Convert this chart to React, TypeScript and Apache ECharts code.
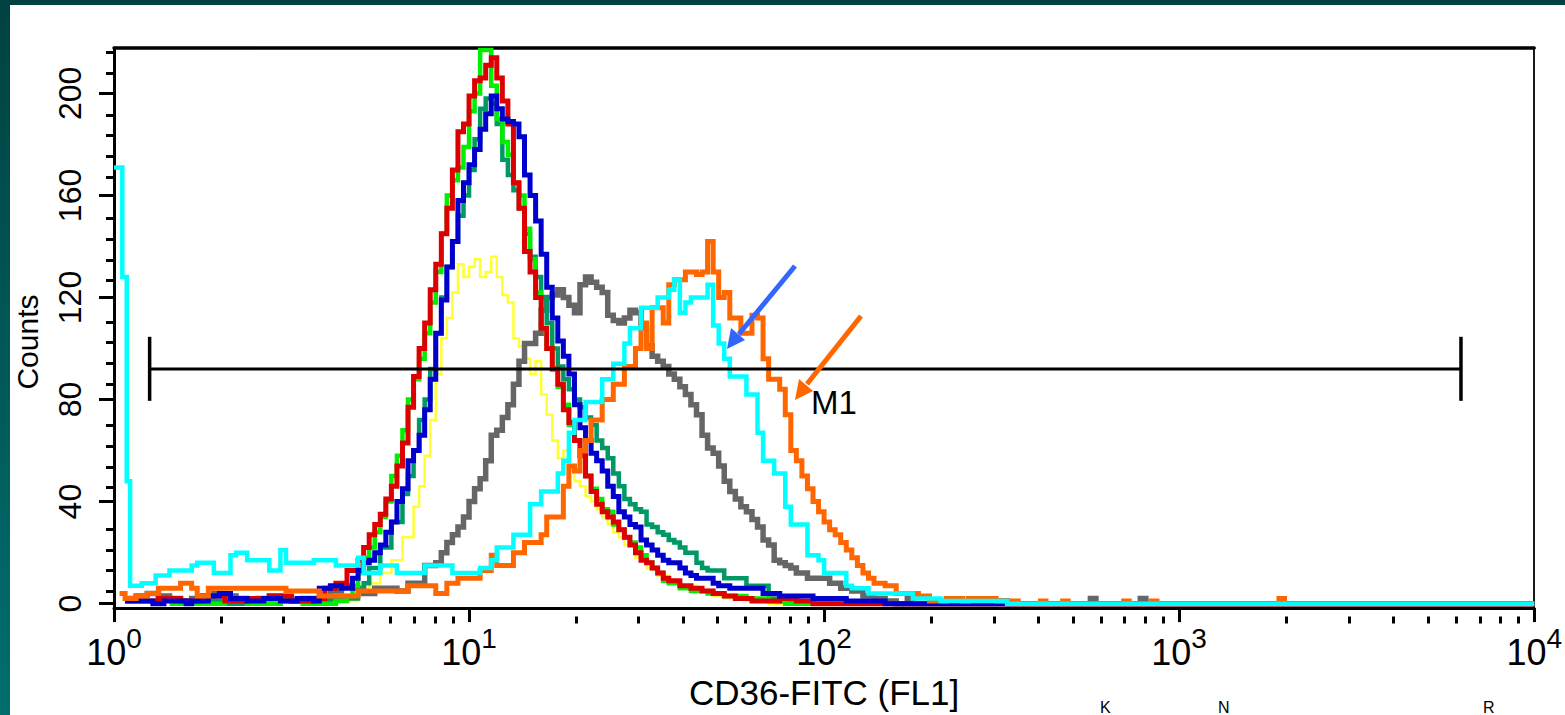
import React, { useEffect, useRef } from "react";
import * as echarts from "echarts";

// 256-channel, 4-decade log histograms: FL1 value = 10^(channel/64); [channel, counts]
const greenHist: [number, number][] = [[10,0],[20,1],[24,0],[30,1],[34,0],[40,1],[42,3],[43,7],[44,12],[45,18],[46,22],[47,28],[48,34],[49,40],[50,50],[51,58],[52,68],[53,80],[54,88],[55,96],[56,106],[57,118],[58,130],[59,145],[60,160],[61,166],[62,171],[63,179],[64,193],[65,200],[66,217],[67,217],[68,203],[69,190],[70,181],[71,176],[72,165],[73,160],[74,147],[75,135],[76,122],[77,108],[78,100],[79,92],[80,85],[81,78],[82,70],[83,64],[84,58],[85,50],[86,45],[87,41],[88,37],[89,36],[90,31],[91,29],[92,26],[93,24],[94,22],[95,19],[96,16],[97,14],[98,12],[99,9],[100,8],[102,6],[104,5],[107,4],[110,3],[114,2],[118,1],[121,0],[256,0]];
const redHist: [number, number][] = [[2,1],[8,2],[12,1],[16,3],[20,1],[24,2],[28,3],[32,1],[36,2],[38,6],[40,8],[42,13],[44,17],[45,22],[46,27],[47,31],[48,35],[49,41],[50,46],[51,54],[52,63],[53,77],[54,89],[55,100],[56,110],[57,123],[58,133],[59,145],[60,155],[61,170],[62,185],[63,188],[64,199],[65,205],[66,206],[67,211],[68,214],[69,206],[70,197],[71,188],[72,165],[73,155],[74,138],[75,130],[76,120],[77,108],[78,100],[79,92],[80,86],[81,76],[82,71],[83,64],[84,58],[85,50],[86,44],[87,39],[88,36],[89,34],[90,32],[91,29],[92,26],[93,23],[94,20],[95,17],[96,16],[97,14],[98,12],[99,10],[100,9],[102,7],[104,6],[106,5],[108,4],[110,3],[112,2],[115,1],[120,2],[123,1],[126,0],[256,0]];
const blueHist: [number, number][] = [[2,1],[7,0],[9,1],[13,0],[14,1],[17,3],[19,4],[21,2],[24,1],[27,2],[30,1],[33,2],[36,1],[37,6],[39,7],[41,6],[43,10],[44,13],[45,16],[46,17],[47,20],[48,23],[49,28],[50,32],[51,40],[52,45],[53,56],[54,60],[55,66],[56,76],[57,88],[58,106],[59,119],[60,132],[61,142],[62,158],[63,165],[64,172],[65,178],[66,186],[67,192],[68,199],[69,194],[70,190],[71,189],[72,188],[73,183],[74,168],[75,160],[76,150],[77,137],[78,124],[79,112],[80,103],[81,97],[82,90],[83,78],[84,69],[85,64],[86,59],[87,56],[88,52],[89,46],[90,42],[91,36],[92,34],[93,31],[94,30],[95,25],[96,23],[97,21],[98,19],[99,17],[100,16],[102,14],[103,12],[104,11],[105,10],[108,8],[109,7],[111,6],[117,4],[120,3],[126,2],[132,1],[139,0],[256,0]];
const darkGreenHist: [number, number][] = [[10,1],[20,0],[30,1],[38,2],[44,6],[45,8],[46,14],[48,22],[50,32],[52,43],[53,50],[54,60],[55,72],[56,80],[57,92],[58,106],[59,120],[60,132],[61,142],[62,152],[63,160],[64,170],[65,182],[66,194],[67,198],[68,196],[69,188],[70,174],[71,168],[72,162],[73,155],[74,145],[75,136],[76,128],[77,120],[78,110],[79,100],[80,93],[81,88],[82,84],[83,80],[84,77],[85,73],[86,70],[87,64],[88,61],[89,57],[90,51],[91,46],[92,41],[93,39],[94,37],[95,36],[96,31],[97,30],[98,28],[99,27],[100,25],[101,24],[102,22],[103,20],[105,16],[106,14],[107,13],[110,10],[114,7],[118,2],[120,1],[124,0],[256,0]];
const yellowHist: [number, number][] = [[40,1],[44,4],[46,8],[48,12],[50,17],[52,26],[54,38],[55,46],[56,58],[57,72],[58,90],[59,104],[60,112],[61,122],[62,133],[63,128],[64,132],[65,135],[66,128],[67,130],[68,136],[69,128],[70,121],[71,118],[72,104],[73,101],[74,96],[75,90],[76,95],[77,82],[78,74],[79,64],[80,57],[81,60],[82,52],[83,48],[84,46],[85,42],[86,40],[87,37],[88,34],[89,31],[90,28],[91,26],[92,23],[94,18],[96,14],[98,11],[100,9],[102,7],[105,5],[108,3],[110,2],[114,1],[118,0],[256,0]];
const grayHist: [number, number][] = [[2,2],[4,3],[6,4],[8,3],[10,2],[12,1],[14,2],[16,3],[18,4],[20,3],[22,2],[24,1],[26,2],[28,3],[30,2],[32,1],[34,2],[36,1],[39,5],[41,7],[43,6],[45,4],[47,6],[49,6],[51,5],[53,8],[56,15],[58,16],[59,20],[60,24],[61,27],[62,30],[63,34],[64,40],[65,45],[66,49],[67,56],[68,66],[69,68],[70,73],[71,78],[72,86],[73,95],[74,102],[75,102],[76,106],[77,115],[78,120],[79,121],[80,123],[81,120],[82,117],[83,114],[84,125],[85,128],[86,126],[87,124],[88,122],[89,113],[90,111],[91,110],[92,112],[93,115],[94,114],[95,108],[96,101],[97,97],[98,95],[99,93],[100,90],[101,88],[102,85],[103,82],[104,78],[105,74],[106,66],[107,61],[108,59],[109,54],[110,48],[111,44],[112,41],[113,38],[114,36],[115,33],[116,30],[117,25],[118,23],[119,17],[120,16],[121,15],[122,14],[123,12],[125,10],[127,10],[129,8],[131,6],[133,5],[135,3],[137,2],[139,1],[141,0],[143,2],[144,0],[160,1],[161,0],[176,2],[177,0],[185,2],[186,0],[256,0]];
const cyanHist: [number, number][] = [[0,171],[1.5,128],[2.3,48],[2.9,7],[5,8],[7.5,11],[10,13],[14,15],[15,16],[18,12],[21,19],[22,20],[24,17],[28,13],[30,21],[31,16],[36,17],[40,15],[44,18],[45,12],[48,15],[51,12],[56,15],[61,12],[66,14],[68,17],[69,22],[72,27],[75,39],[77,44],[80,51],[81,56],[82,67],[83,72],[85,79],[88,88],[90,94],[92,102],[93,108],[95,116],[98,120],[100,123],[101,127],[102,114],[103,118],[104,120],[107,125],[108,109],[109,102],[110,96],[111,89],[114,82],[116,67],[117,56],[119,51],[121,38],[122,31],[125,19],[127,17],[128,12],[132,7],[133,6],[136,4],[144,2],[149,1],[161,0],[256,0]];
const orangeHist: [number, number][] = [[1,4],[2,2],[4,3],[6,4],[8,6],[11,6],[12,8],[14,6],[15,3],[17,6],[24,6],[31,5],[37,3],[44,5],[53,7],[58,4],[60,8],[62,10],[66,13],[68,19],[69,15],[72,20],[74,24],[77,27],[78,34],[81,46],[82,54],[83,52],[84,60],[85,64],[86,72],[88,80],[90,86],[92,93],[94,100],[95,110],[96,100],[97,116],[99,110],[100,125],[101,127],[103,130],[105,129],[106,130],[107,142],[108,130],[109,120],[110,122],[111,112],[113,106],[115,113],[116,112],[117,96],[118,88],[120,84],[121,74],[122,60],[123,56],[124,50],[125,45],[126,40],[127,36],[128,32],[129,29],[130,27],[131,24],[132,21],[133,18],[134,15],[135,12],[136,10],[137,8],[139,7],[141,4],[145,3],[147,1],[150,2],[153,1],[154,2],[159,1],[163,0],[167,1],[168,0],[171,1],[172,0],[182,1],[183,0],[187,1],[188,0],[210,2],[211,0],[256,0]];

const xMajorTicks = [1, 10, 100, 1000, 10000];
const yMajorTicks = [0, 40, 80, 120, 160, 200];
const m1Range = [1.26, 6220];
const m1Level = 92;
const m1CapLow = 79.5;
const m1CapHigh = 104.6;

const FONT = "'Liberation Sans', Arial, Helvetica, sans-serif";

const toXY = (h: [number, number][]) => h.map(([ch, c]) => [Math.pow(10, ch / 64), c]);

export default function App() {
  const ref = useRef<HTMLDivElement>(null);
  useEffect(() => {
    if (!ref.current) return;
    const chart = echarts.init(ref.current, undefined, { renderer: "svg" });

    const xMinor: number[] = [];
    for (const d of [1, 10, 100, 1000]) for (let k = 2; k <= 9; k++) xMinor.push(k * d);
    const yMinor: number[] = [];
    for (let v = 8; v <= 216; v += 8) if (v % 40 !== 0) yMinor.push(v);

    const hist = (name: string, h: [number, number][], color: string, width: number) => ({
      name,
      type: "line",
      step: "end",
      data: toXY(h),
      showSymbol: false,
      symbol: "none",
      silent: true,
      xAxisIndex: 0,
      yAxisIndex: 0,
      lineStyle: { color, width, join: "miter", cap: "butt" },
      itemStyle: { color },
    });

    const seg = (data: number[][], width: number) => ({
      type: "line",
      data,
      showSymbol: false,
      symbol: "none",
      silent: true,
      xAxisIndex: 0,
      yAxisIndex: 0,
      lineStyle: { color: "#000", width, cap: "butt" },
      z: 5,
    });

    const yMin = -1.74;
    const yMax = 217.8;
    const gridBox = { left: 114, right: 30, top: 48, bottom: 98.5 };

    chart.setOption({
      animation: false,
      backgroundColor: "#fff",
      grid: [gridBox, gridBox],
      xAxis: [
        {
          gridIndex: 0,
          type: "log",
          logBase: 10,
          min: 1,
          max: 10000,
          position: "bottom",
          name: "CD36-FITC (FL1]",
          nameLocation: "middle",
          nameGap: 62,
          nameTextStyle: { fontSize: 35, fontFamily: FONT, color: "#000" },
          axisLine: { show: true, onZero: false, lineStyle: { color: "#000", width: 3 } },
          axisTick: { show: true, length: 14, lineStyle: { color: "#000", width: 3 }, customValues: xMajorTicks },
          axisLabel: {
            show: true,
            margin: 16,
            customValues: xMajorTicks,
            formatter: (v: number) => `{b|10}{e|${Math.round(Math.log10(v))}}`,
            rich: {
              b: { fontSize: 36, fontFamily: FONT, color: "#000", lineHeight: 56 },
              e: { fontSize: 28, fontFamily: FONT, color: "#000", lineHeight: 28, verticalAlign: "top" },
            },
          },
          splitLine: { show: false },
        },
        {
          gridIndex: 1,
          type: "log",
          logBase: 10,
          min: 1,
          max: 10000,
          position: "bottom",
          axisLine: { show: false, onZero: false },
          axisTick: { show: true, length: 7, lineStyle: { color: "#000", width: 3 }, customValues: xMinor },
          axisLabel: { show: false },
          splitLine: { show: false },
        },
        {
          gridIndex: 0,
          type: "log",
          logBase: 10,
          min: 1,
          max: 10000,
          position: "top",
          axisLine: { show: true, onZero: false, lineStyle: { color: "#000", width: 3.5 } },
          axisTick: { show: false },
          axisLabel: { show: false },
          splitLine: { show: false },
        },
      ],
      yAxis: [
        {
          gridIndex: 0,
          type: "value",
          min: yMin,
          max: yMax,
          position: "left",
          name: "Counts",
          nameLocation: "middle",
          nameRotate: 90,
          nameGap: 72,
          nameTextStyle: { fontSize: 30, fontFamily: FONT, color: "#000", padding: [0, 28, 0, 0] },
          axisLine: { show: true, onZero: false, lineStyle: { color: "#000", width: 3 } },
          axisTick: { show: true, length: 15, lineStyle: { color: "#000", width: 3 }, customValues: yMajorTicks },
          axisLabel: {
            show: true,
            rotate: 90,
            margin: 28,
            customValues: yMajorTicks,
            fontSize: 32,
            fontFamily: FONT,
            color: "#000",
          },
          splitLine: { show: false },
        },
        {
          gridIndex: 1,
          type: "value",
          min: yMin,
          max: yMax,
          position: "left",
          axisLine: { show: false, onZero: false },
          axisTick: { show: true, length: 8, lineStyle: { color: "#000", width: 3 }, customValues: yMinor },
          axisLabel: { show: false },
          splitLine: { show: false },
        },
        {
          gridIndex: 0,
          type: "value",
          min: yMin,
          max: yMax,
          position: "right",
          axisLine: { show: true, onZero: false, lineStyle: { color: "#000", width: 1.8 } },
          axisTick: { show: false },
          axisLabel: { show: false },
          splitLine: { show: false },
        },
      ],
      series: [
        hist("yellow", yellowHist, "#FFFF33", 2.5),
        hist("gray", grayHist, "#666666", 5.5),
        hist("darkgreen", darkGreenHist, "#009966", 4.5),
        hist("green", greenHist, "#00EE00", 4.5),
        hist("red", redHist, "#DD0000", 5),
        hist("blue", blueHist, "#0000CC", 5),
        hist("orange", orangeHist, "#FF6600", 5),
        hist("cyan", cyanHist, "#00FFFF", 4.5),
        seg([[m1Range[0], m1Level], [m1Range[1], m1Level]], 3),
        seg([[m1Range[0], m1CapLow], [m1Range[0], m1CapHigh]], 3.5),
        seg([[m1Range[1], m1CapLow], [m1Range[1], m1CapHigh]], 3.5),
      ],
      graphic: [
        {
          type: "rect",
          left: 0,
          top: 0,
          shape: { width: 1565, height: 5 },
          style: { fill: "#004242" },
          z: 100,
        },
        {
          type: "rect",
          left: 0,
          top: 0,
          shape: { width: 10, height: 715 },
          style: {
            fill: new echarts.graphic.LinearGradient(0, 0, 0, 1, [
              { offset: 0, color: "#004242" },
              { offset: 1, color: "#006e6e" },
            ]),
          },
          z: 100,
        },
        {
          type: "text",
          left: 811,
          top: 386,
          style: { text: "M1", fontSize: 33, fontFamily: FONT, fill: "#000" },
          z: 50,
        },
        {
          type: "line",
          shape: { x1: 795, y1: 266, x2: 739, y2: 334 },
          style: { stroke: "#3366FF", lineWidth: 5 },
          z: 50,
        },
        {
          type: "polygon",
          shape: { points: [[727, 349], [745, 340], [731, 328]] },
          style: { fill: "#3366FF" },
          z: 50,
        },
        {
          type: "line",
          shape: { x1: 861, y1: 316, x2: 807, y2: 384 },
          style: { stroke: "#FF6600", lineWidth: 5 },
          z: 50,
        },
        {
          type: "polygon",
          shape: { points: [[795, 400], [813, 391], [799, 379]] },
          style: { fill: "#FF6600" },
          z: 50,
        },
        { type: "text", left: 1100, top: 699, style: { text: "K", fontSize: 16, fontFamily: FONT, fill: "#000" }, z: 50 },
        { type: "text", left: 1218, top: 699, style: { text: "N", fontSize: 16, fontFamily: FONT, fill: "#000" }, z: 50 },
        { type: "text", left: 1483, top: 699, style: { text: "R", fontSize: 16, fontFamily: FONT, fill: "#000" }, z: 50 },
      ],
    });
    return () => chart.dispose();
  }, []);
  return (
    <div
      ref={ref}
      style={{ position: "fixed", left: 0, top: 0, width: 1565, height: 715, background: "#fff" }}
    />
  );
}
